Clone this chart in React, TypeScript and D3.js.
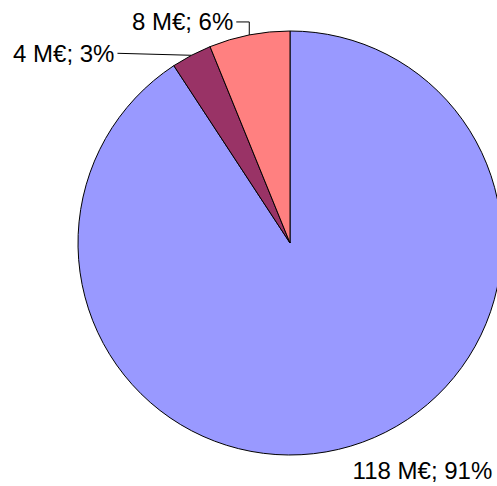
import React from "react";
import * as d3 from "d3";

const categories = ["A", "B", "C"];
const values = [118, 4, 8];
const percents = [91, 3, 6];
const colors = ["#9999FF", "#993366", "#FF8080"];

const W = 497;
const H = 486;
const cx = 290;
const cy = 243;
const R = 212;
const FONT = 24;

export default function App() {
  const pie = d3.pie<number>().sort(null).value((d) => d).startAngle(0).endAngle(2 * Math.PI);
  const arcs = pie(values);
  const arcGen = d3.arc<d3.PieArcDatum<number>>().innerRadius(0).outerRadius(R);
  const pt = (a: number, r: number) => [Math.sin(a) * r, -Math.cos(a) * r];

  const labelText = (i: number) => `${values[i]} M€; ${percents[i]}%`;

  return (
    <div style={{ position: "fixed", left: 0, top: 0, width: W, height: H, background: "#fff" }}>
      <svg width={W} height={H} style={{ display: "block" }}>
        <g transform={`translate(${cx},${cy})`}>
          {arcs.map((a, i) => (
            <path key={categories[i]} d={arcGen(a) || ""} fill={colors[i]} stroke="#000" strokeWidth={1} />
          ))}
        </g>
        {arcs.map((a, i) => {
          const mid = (a.startAngle + a.endAngle) / 2;
          const [mx, my] = pt(mid, R);
          const px = cx + mx;
          const py = cy + my;
          const style = { fontFamily: "Liberation Sans, Arial, sans-serif", fontSize: FONT, fill: "#000" };
          if (i === 0) {
            return (
              <text key={i} x={px + 2} y={py + 24} dy="0.35em" {...style}>
                {labelText(i)}
              </text>
            );
          }
          if (i === 1) {
            const lx = px - 74;
            const ly = py - 2;
            return (
              <g key={i}>
                <polyline points={`${px},${py} ${lx},${ly}`} fill="none" stroke="#000" strokeWidth={1} />
                <text x={lx - 3} y={ly} dy="0.35em" textAnchor="end" {...style}>
                  {labelText(i)}
                </text>
              </g>
            );
          }
          const ly = py - 13;
          const lx = px - 13;
          return (
            <g key={i}>
              <polyline points={`${px},${py} ${px},${ly} ${lx},${ly}`} fill="none" stroke="#000" strokeWidth={1} />
              <text x={lx - 3} y={ly} dy="0.35em" textAnchor="end" {...style}>
                {labelText(i)}
              </text>
            </g>
          );
        })}
      </svg>
    </div>
  );
}
